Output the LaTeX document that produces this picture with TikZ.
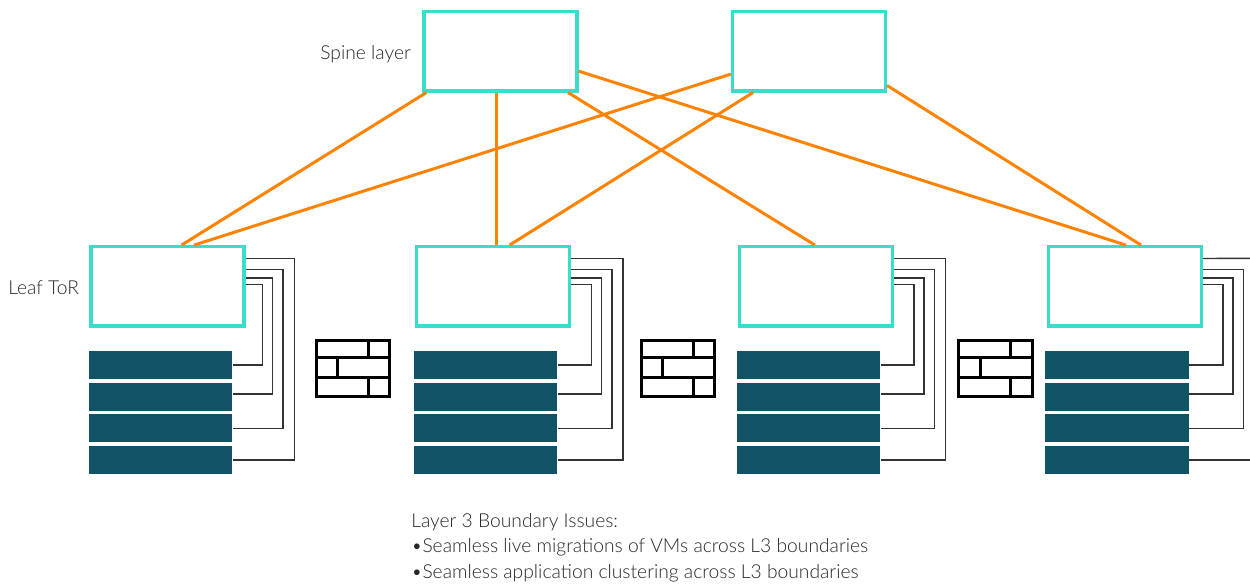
\documentclass[tikz,border=0pt]{standalone}
\usepackage{fontspec}
\usetikzlibrary{calc}
\setmainfont{Lato Light}
\definecolor{boxteal}{HTML}{38DDCB}
\definecolor{linkorange}{HTML}{FF8300}
\definecolor{srvblue}{HTML}{105364}
\definecolor{wiregray}{HTML}{333333}
\tikzset{
	netbox/.style={draw=boxteal, line width=1.9pt, minimum width=87pt, minimum height=45pt, inner sep=0pt},
	srvbox/.style={fill=srvblue, minimum width=81.6pt, minimum height=15.8pt, inner sep=0pt},
	fwbox/.style={draw=black, line width=1.7pt, minimum width=41.6pt, minimum height=31.8pt, inner sep=0pt},
	fwline/.style={draw=black, line width=1.7pt},
	link/.style={draw=linkorange, line width=1.7pt},
	wire/.style={draw=wiregray, line width=0.8pt},
	lbl/.style={inner sep=0pt, anchor=base west, text=black!85, font=\fontsize{10.95}{12}\selectfont},
}
\begin{document}
\begin{tikzpicture}[x=0.02cm, y=-0.02cm]
	\useasboundingbox (0,0) rectangle (1250,586);

	\node[netbox] (spineA) at (500.5,51.3) {};
	\node[netbox] (spineB) at (809,51.3) {};

	% leaf switch, its four servers and the wires between them
	\foreach \name/\lx/\sx/\wx in {A/167.5/160.5/16.8, B/493/485.5/20.3, C/816/808.5/19.9, D/1125/1117/19.9} {
		\node[netbox] (leaf\name) at (\lx,286.3) {};
		\node[srvbox] (srv\name1) at (\sx,365) {};
		\node[srvbox] (srv\name2) at (\sx,397) {};
		\node[srvbox] (srv\name3) at (\sx,428.3) {};
		\node[srvbox] (srv\name4) at (\sx,460) {};
		\draw[wire] ($(leaf\name.north east)+(0,39.4)$) -- ++(\wx,0) |- (srv\name1.east);
		\draw[wire] ($(leaf\name.north east)+(0,32.8)$) -- ++(\wx+10,0) |- ($(srv\name2.east)+(0,-3)$);
		\draw[wire] ($(leaf\name.north east)+(0,24.4)$) -- ++(\wx+20.5,0) |- (srv\name3.east);
	}
	\foreach \name/\wx in {A/49.1, B/51.9, C/51.6} {
		\draw[wire] ($(leaf\name.north east)+(0,13.4)$) -- ++(\wx,0) |- (srv\name4.east);
	}
	\coordinate (wireTop) at (1250,258.3);
	\coordinate (wireBot) at (1250,460);
	\draw[wire] ($(leafD.north east)+(0,13.4)$) -- (wireTop);
	\draw[wire] (srvD4.east) -- (wireBot);

	% firewalls
	\foreach \name/\x in {A/353.2, B/678, C/995.5} {
		\node[fwbox] (fw\name) at (\x,368.5) {};
		\draw[fwline] ($(fw\name.north west)+(0,18.3)$) -- ($(fw\name.north east)+(0,18.3)$);
		\draw[fwline] ($(fw\name.south west)+(0,-20.3)$) -- ($(fw\name.south east)+(0,-20.3)$);
		\draw[fwline] ($(fw\name.north east)+(-23,0)$) -- ++(0,18.3);
		\draw[fwline] ($(fw\name.south east)+(-23,0)$) -- ++(0,-20.3);
		\draw[fwline] ($(fw\name.north west)+(22.7,18.3)$) -- ++(0,18.4);
	}

	\draw[link] ($(spineA.south west)+(4,0)$) -- ($(leafA.north)+(14,0)$);
	\draw[link] ($(spineA.south)+(-4.5,0)$) -- ($(leafB.north)+(3,0)$);
	\draw[link] ($(spineA.south)+(67.5,0)$) -- ($(leafC.north)+(-1,0)$);
	\draw[link] ($(spineA.north east)+(0,61)$) -- ($(leafD.north)+(1,0)$);
	\draw[link] ($(spineB.north west)+(0,64)$) -- ($(leafA.north)+(26.5,0)$);
	\draw[link] ($(spineB.south)+(-56,0)$) -- ($(leafB.north)+(16.5,0)$);
	\draw[link] ($(spineB.south east)+(0,-7)$) -- ($(leafD.north)+(16,0)$);

	\node[lbl] (spineLbl) at (320,59) {Spine layer};
	\node[lbl] (leafLbl) at (8,294) {Leaf ToR};
	\node[lbl] (noteHead) at (411,527) {Layer 3 Boundary Issues:};
	\node[lbl] (noteA) at (411,552) {•Seamless live migrations of VMs across L3 boundaries};
	\node[lbl] (noteB) at (411,578) {•Seamless application clustering across L3 boundaries};
\end{tikzpicture}
\end{document}
